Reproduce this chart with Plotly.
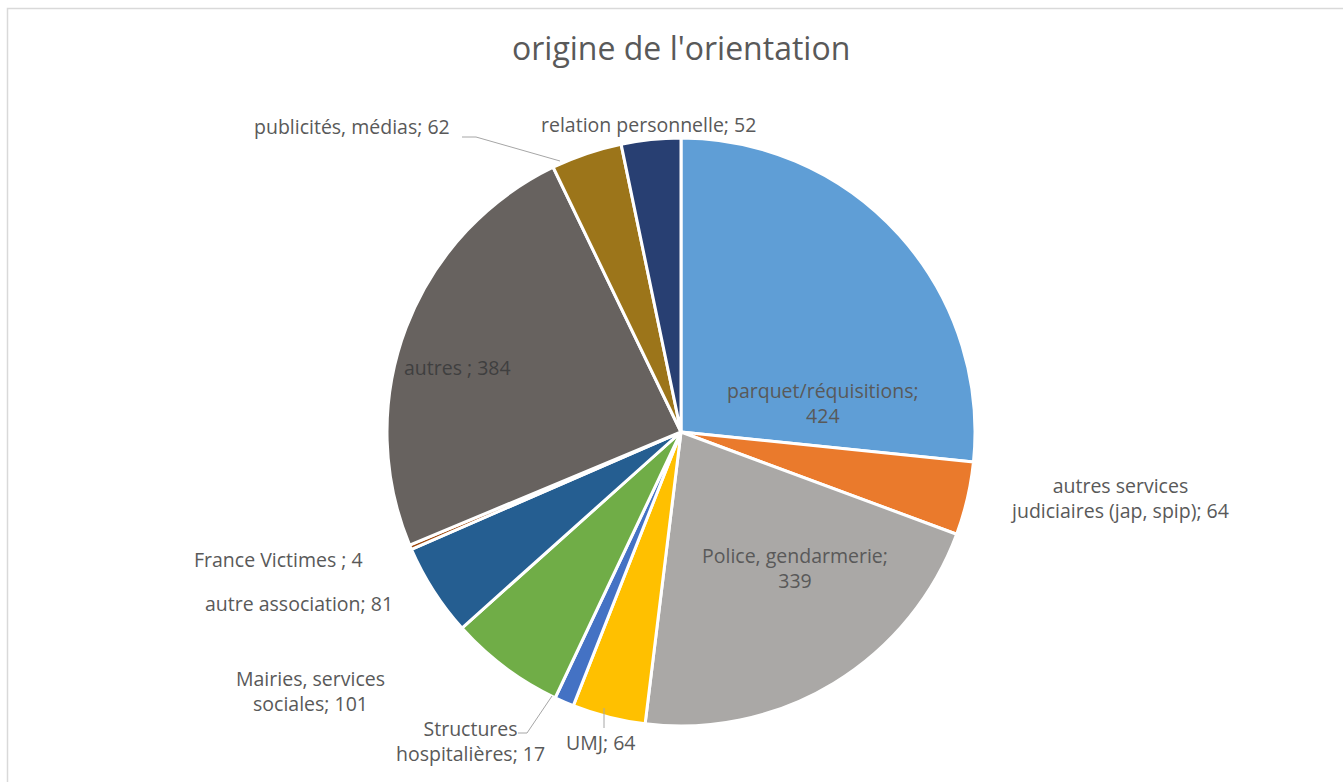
import plotly.graph_objects as go

W, H = 1343, 782

# Orientation sources, clockwise from 12 o'clock
categories = [
    "parquet/réquisitions",
    "autres services judiciaires (jap, spip)",
    "Police, gendarmerie",
    "UMJ",
    "Structures hospitalières",
    "Mairies, services sociales",
    "autre association",
    "France Victimes ",
    "autres ",
    "publicités, médias",
    "relation personnelle",
]
values = [424, 64, 339, 64, 17, 101, 81, 4, 384, 62, 52]
colors = [
    "#5F9ED6", "#EA7A2C", "#AAA8A6", "#FFC000", "#4472C4", "#70AD47",
    "#255E91", "#9E480E", "#67625F", "#9C751A", "#283F72",
]

# Multi-line label layouts; {v} is replaced by the slice value
label_breaks = {
    0: "parquet/réquisitions;<br>{v}",
    1: "autres services<br>judiciaires (jap, spip); {v}",
    2: "Police, gendarmerie;<br>{v}",
    5: "Mairies, services<br>sociales; {v}",
    4: "Structures<br>hospitalières; {v}",
}
# Label centres in pixels
label_pos = {
    0: (823, 403),
    1: (1119, 498),
    2: (795, 568),
    3: (600, 742),
    4: (470, 741),
    5: (310, 691),
    6: (299, 603),
    7: (278, 559),
    8: (458, 367),
    9: (352, 127),
    10: (648, 124),
}
label_color = {8: "#3F3F3F"}

TEXT = "#595959"
FONT = "Open Sans"

cx, cy, r = 681, 432, 294


def px(x):
    return x / W


def py(y):
    return 1 - y / H


fig = go.Figure(
    go.Pie(
        labels=categories,
        values=values,
        sort=False,
        direction="clockwise",
        rotation=0,
        textinfo="none",
        hoverinfo="label+value",
        marker=dict(colors=colors, line=dict(color="white", width=3)),
        domain=dict(x=[px(cx - r), px(cx + r)], y=[py(cy + r), py(cy - r)]),
        showlegend=False,
    )
)

annotations = []
for i, (cat, v) in enumerate(zip(categories, values)):
    if i in label_breaks:
        txt = label_breaks[i].replace("{v}", str(v))
    else:
        txt = f"{cat}; {v}"
    x, y = label_pos[i]
    annotations.append(dict(
        x=px(x), y=py(y), xref="paper", yref="paper",
        text=txt, showarrow=False, xanchor="center", yanchor="middle",
        align="center",
        font=dict(family=FONT, size=19.5, color=label_color.get(i, TEXT)),
    ))

annotations.append(dict(
    x=px(681), y=py(48), xref="paper", yref="paper",
    text="origine de l'orientation", showarrow=False,
    xanchor="center", yanchor="middle",
    font=dict(family=FONT, size=32, color=TEXT),
))

leader = dict(color="#A6A6A6", width=1)
shapes = [
    # chart area frame
    dict(type="rect", xref="paper", yref="paper",
         x0=px(7.5), y0=py(800), x1=px(1360), y1=py(8.5),
         line=dict(color="#D9D9D9", width=1.5), fillcolor="rgba(0,0,0,0)"),
    # leader lines
    dict(type="path", xref="paper", yref="paper",
         path=f"M {px(462)} {py(137)} L {px(476)} {py(137)} L {px(560)} {py(161)}",
         line=leader),
    dict(type="path", xref="paper", yref="paper",
         path=f"M {px(518)} {py(733)} L {px(527)} {py(733)} L {px(552)} {py(696)}",
         line=leader),
    dict(type="line", xref="paper", yref="paper",
         x0=px(604), y0=py(708), x1=px(604), y1=py(728), line=leader),
]

fig.update_layout(
    width=W, height=H,
    margin=dict(l=0, r=0, t=0, b=0),
    paper_bgcolor="white",
    plot_bgcolor="white",
    annotations=annotations,
    shapes=shapes,
    font=dict(family=FONT, color=TEXT),
)

fig.write_html("out.html")
